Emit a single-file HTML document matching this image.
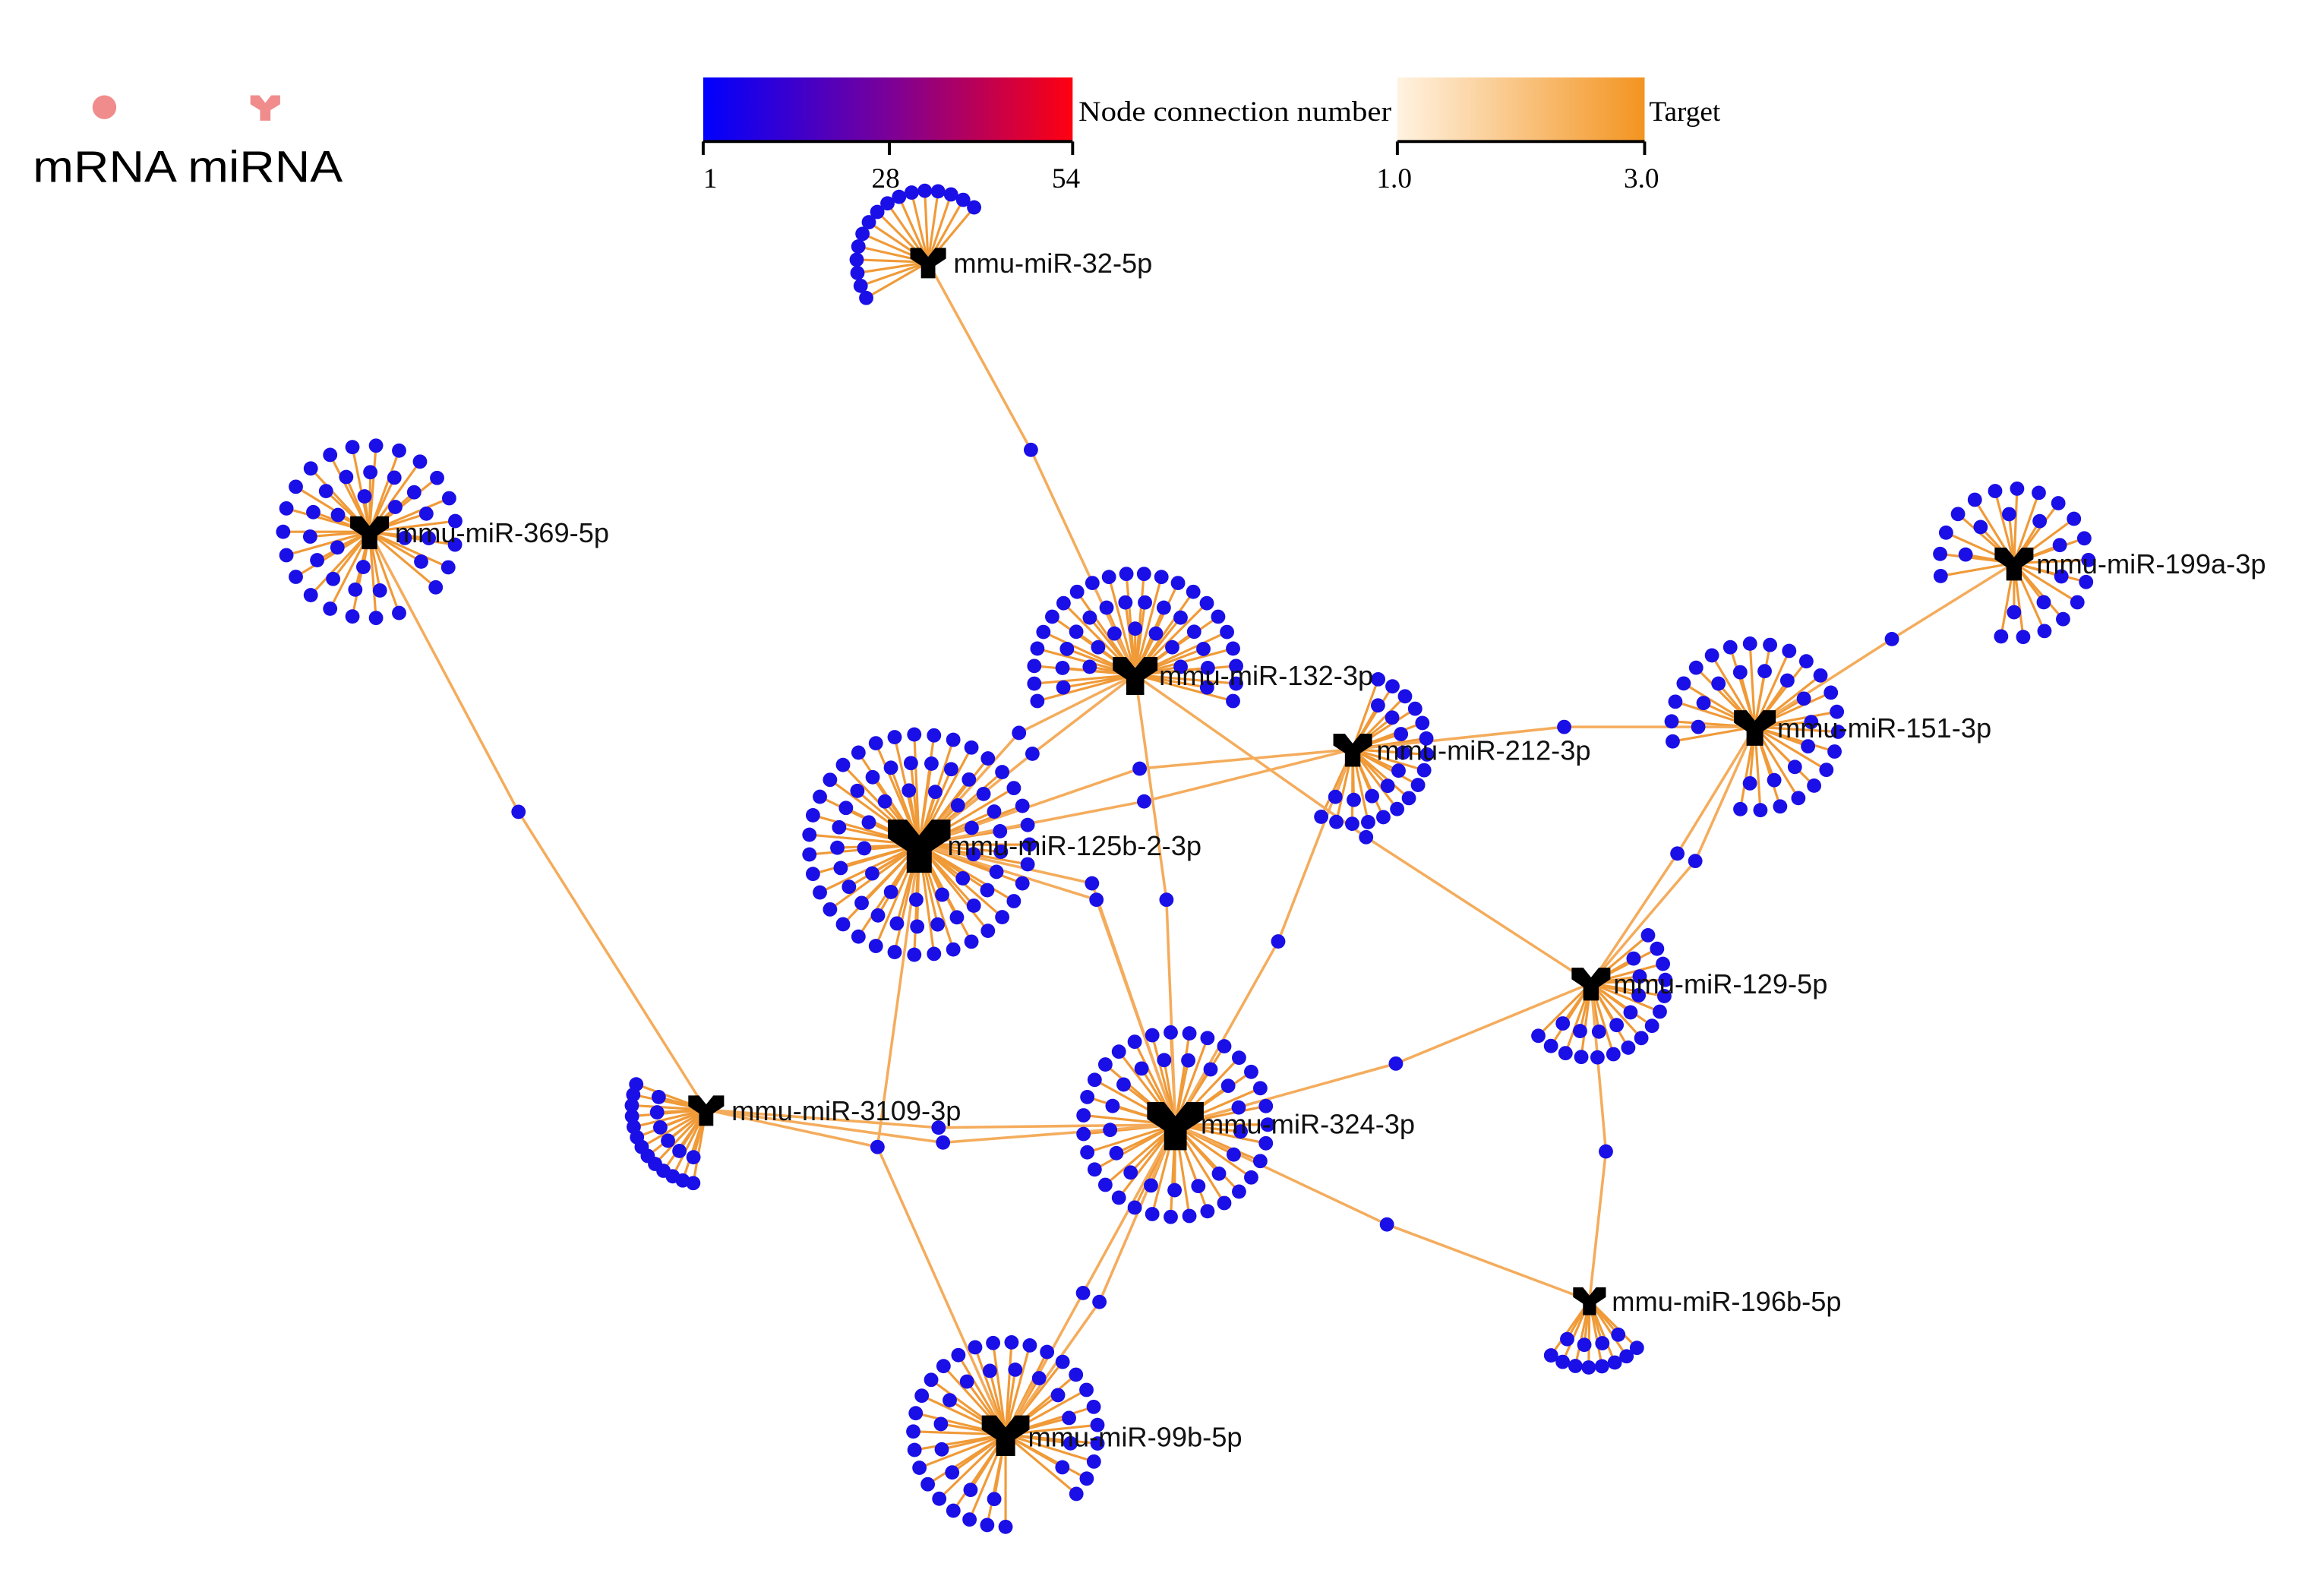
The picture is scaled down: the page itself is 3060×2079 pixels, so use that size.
<!DOCTYPE html>
<html><head><meta charset="utf-8"><style>
html,body{margin:0;padding:0;background:#fff;}
svg{display:block;}
</style></head><body>
<svg id="s" width="3060" height="2079" viewBox="0 0 1560 1060" xmlns="http://www.w3.org/2000/svg" font-family="Liberation Sans, Arial, sans-serif">
<defs>
<linearGradient id="g1"><stop offset="0" stop-color="#0000ff"/><stop offset="0.5" stop-color="#7a0099"/><stop offset="1" stop-color="#ff0010"/></linearGradient>
<linearGradient id="g2"><stop offset="0" stop-color="#fff3e2"/><stop offset="1" stop-color="#f39420"/></linearGradient>
</defs>
<rect width="1560" height="1060" fill="#fff"/>
<circle cx="70" cy="72" r="8" fill="#f08c8c"/>
<path transform="translate(178,72) scale(10)" d="M-1,-0.8 L-0.4,-0.8 L0,-0.3 L0.4,-0.8 L1,-0.8 L1,-0.2 L0.35,0.2 L0.35,0.9 L-0.35,0.9 L-0.35,0.2 L-1,-0.2Z" fill="#f08c8c"/>
<text x="22" y="122" font-size="30" textLength="208" lengthAdjust="spacingAndGlyphs">mRNA miRNA</text>
<rect x="472" y="52" width="248" height="43" fill="url(#g1)"/>
<path d="M472,95 H720 M472,95 V104 M597,95 V104 M720,95 V104" stroke="#000" stroke-width="2" fill="none"/>
<g font-family="Liberation Serif, serif" font-size="19">
<text x="472" y="126">1</text><text x="585" y="126">28</text><text x="706" y="126">54</text>
<text x="724" y="81" textLength="210" lengthAdjust="spacingAndGlyphs">Node connection number</text>
<text x="1107" y="81">Target</text>
<text x="924" y="126">1.0</text><text x="1090" y="126">3.0</text>
</g>
<rect x="938" y="52" width="166" height="43" fill="url(#g2)"/>
<path d="M938,95 H1104 M938,95 V104 M1104,95 V104" stroke="#000" stroke-width="2" fill="none"/>
<g id="edges"></g>
<g id="nodes"></g>
<g id="hubs"></g>
<g font-size="18.5" fill="#111">
<text x="640" y="183">mmu-miR-32-5p</text>
<text x="265" y="364">mmu-miR-369-5p</text>
<text x="778" y="460">mmu-miR-132-3p</text>
<text x="924" y="510">mmu-miR-212-3p</text>
<text x="1193" y="495">mmu-miR-151-3p</text>
<text x="1367" y="385">mmu-miR-199a-3p</text>
<text x="636" y="574">mmu-miR-125b-2-3p</text>
<text x="1083" y="667">mmu-miR-129-5p</text>
<text x="491" y="752">mmu-miR-3109-3p</text>
<text x="806" y="761">mmu-miR-324-3p</text>
<text x="1082" y="880">mmu-miR-196b-5p</text>
<text x="690" y="971">mmu-miR-99b-5p</text>
</g>
</svg>
<script>
var NS="http://www.w3.org/2000/svg";
var E=document.getElementById("edges"),N=document.getElementById("nodes"),H=document.getElementById("hubs");
function el(p,t,a){var e=document.createElementNS(NS,t);for(var k in a)e.setAttribute(k,a[k]);p.appendChild(e);return e;}
var hubs={
m32:[623,176,12,[[48,150,310,16]]],
m369:[248,357,13,[[58,70,400,22],[40,80,390,14],[24,100,370,6]]],
m132:[762,453,15,[[68,165,375,22],[49,170,370,14],[31,190,350,7]]],
m212:[908,503,13,[[50,-70,115,16],[34,-60,110,9]]],
m151:[1178,488,14,[[56,-190,100,22],[38,-180,95,12]]],
m199:[1352,378,13,[[50,-190,100,18],[33,-170,90,8]]],
m125:[617,567,21,[[74,0,360,36],[55,5,365,26],[37,10,370,14]]],
m129:[1068,660,13,[[50,-40,135,15],[33,-30,125,8]]],
m3109:[474,745,12,[[50,100,200,13],[33,105,195,6]]],
m324:[789,755,19,[[62,0,360,32],[44,6,366,18]]],
m196:[1067,873,11,[[45,45,125,8],[30,50,120,4]]],
m99:[675,963,16,[[62,90,400,28],[44,100,390,14]]]
};
function lf(h){
  var x=h[0],y=h[1];
  h[3].forEach(function(r){
    var n=r[3];
    for(var i=0;i<n;i++){
      var a=(r[1]+(r[2]-r[1])*(n==1?0.5:i/(n-1)))*Math.PI/180;
      var px=x+r[0]*Math.cos(a),py=y+r[0]*Math.sin(a);
      el(E,"line",{x1:x,y1:y,x2:px,y2:py,stroke:"#f09a38","stroke-width":1.6});
      el(N,"circle",{cx:px,cy:py,r:4.8,fill:"#1a0fe6"});
    }
  });
}
for(var k in hubs)lf(hubs[k]);
var shared=[
[692,302,["m32","m132"]],
[348,545,["m369","m3109"]],
[1270,429,["m199","m151"]],
[1050,488,["m212","m151"]],
[684,492,["m125","m132"]],[693,506,["m125","m132"]],
[765,516,["m212","m125"]],[768,538,["m212","m125"]],
[917,562,["m132","m129"]],
[1126,573,["m151","m129"]],[1138,578,["m151","m129"]],
[858,632,["m212","m324"]],
[783,604,["m132","m324"]],
[733,593,["m125","m324"]],[736,604,["m125","m324"]],
[937,714,["m324","m129"]],
[1078,773,["m129","m196"]],
[931,822,["m324","m196"]],
[589,770,["m125","m3109","m99"]],
[630,757,["m3109","m324"]],[633,767,["m3109","m324"]],
[727,868,["m324","m99"]],[738,874,["m324","m99"]]
];
shared.forEach(function(s){
  s[2].forEach(function(h){el(E,"line",{x1:s[0],y1:s[1],x2:hubs[h][0],y2:hubs[h][1],stroke:"#f4ac5c","stroke-width":1.8});});
  el(N,"circle",{cx:s[0],cy:s[1],r:4.8,fill:"#1a0fe6"});
});
for(var k in hubs){var h=hubs[k];
el(H,"path",{transform:"translate("+h[0]+","+h[1]+") scale("+h[2]+")",d:"M-1,-0.8 L-0.4,-0.8 L0,-0.3 L0.4,-0.8 L1,-0.8 L1,-0.2 L0.4,0.2 L0.4,0.9 L-0.4,0.9 L-0.4,0.2 L-1,-0.2Z",fill:"#000"});}
</script>
</body></html>
